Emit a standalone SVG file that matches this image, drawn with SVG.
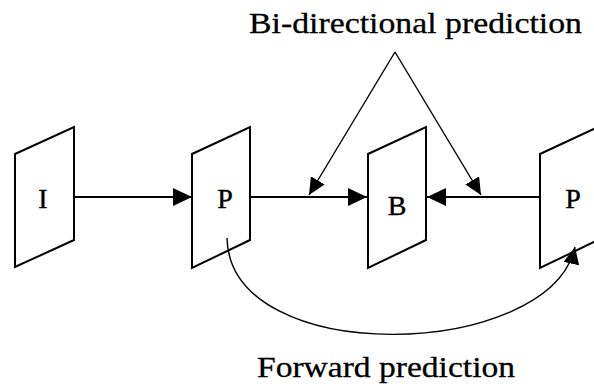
<svg xmlns="http://www.w3.org/2000/svg" width="594" height="391" viewBox="0 0 594 391">
<style>
.frame{fill:none;stroke:#000;stroke-width:2;stroke-linejoin:miter}
.lbl{font-family:'Liberation Serif',Tinos,'Times New Roman',Times,serif;font-size:28px;fill:#000;stroke:#000;stroke-width:0.4;text-anchor:middle}
.title{font-family:'Liberation Serif',Tinos,'Times New Roman',Times,serif;font-size:30px;fill:#000;stroke:#000;stroke-width:0.3}
.conn{fill:none;stroke:#000;stroke-width:2}
.thin{fill:none;stroke:#000;stroke-width:1.4}
</style>
<defs>
<marker id="ah" markerUnits="userSpaceOnUse" markerWidth="20" markerHeight="18" refX="19" refY="9" orient="auto">
<path d="M0,0 L19,9 L0,18 z" fill="#000"/>
</marker>
<marker id="ahs" markerUnits="userSpaceOnUse" markerWidth="18" markerHeight="16" refX="17" refY="8" orient="auto">
<path d="M0,0 L17,8 L0,16 z" fill="#000"/>
</marker>
</defs>
<rect width="594" height="391" fill="#fff"/>
<g id="frameI">
<path class="frame" d="M15,154 L74,127 L74,240 L15,267 Z"/>
<text class="lbl" x="43" y="208">I</text>
</g>
<g id="frameP1">
<path class="frame" d="M192,154 L250,127 L250,240 L192,268 Z"/>
<text class="lbl" x="225" y="208">P</text>
</g>
<g id="frameB">
<path class="frame" d="M368,154 L426,127 L426,240 L368,268 Z"/>
<text class="lbl" x="397" y="215">B</text>
</g>
<g id="frameP2">
<path class="frame" d="M540,154 L598,127 L598,240 L540,268 Z"/>
<text class="lbl" x="573" y="208">P</text>
</g>
<g id="connectors">
<line class="conn" x1="74" y1="197" x2="192" y2="197" marker-end="url(#ah)"/>
<line class="conn" x1="250" y1="197" x2="367" y2="197" marker-end="url(#ah)"/>
<line class="conn" x1="540" y1="197" x2="427" y2="197" marker-end="url(#ah)"/>
<line class="thin" x1="395" y1="52" x2="309" y2="195" marker-end="url(#ahs)"/>
<line class="thin" x1="395" y1="52" x2="481" y2="195" marker-end="url(#ahs)"/>
<path class="thin" d="M227,238 C230,370 550,360 575,247" marker-end="url(#ahs)"/>
</g>
<g id="labels">
<text class="title" x="249" y="33" textLength="333" lengthAdjust="spacingAndGlyphs">Bi-directional prediction</text>
<text class="title" x="257" y="377" textLength="258" lengthAdjust="spacingAndGlyphs">Forward prediction</text>
</g>
</svg>
